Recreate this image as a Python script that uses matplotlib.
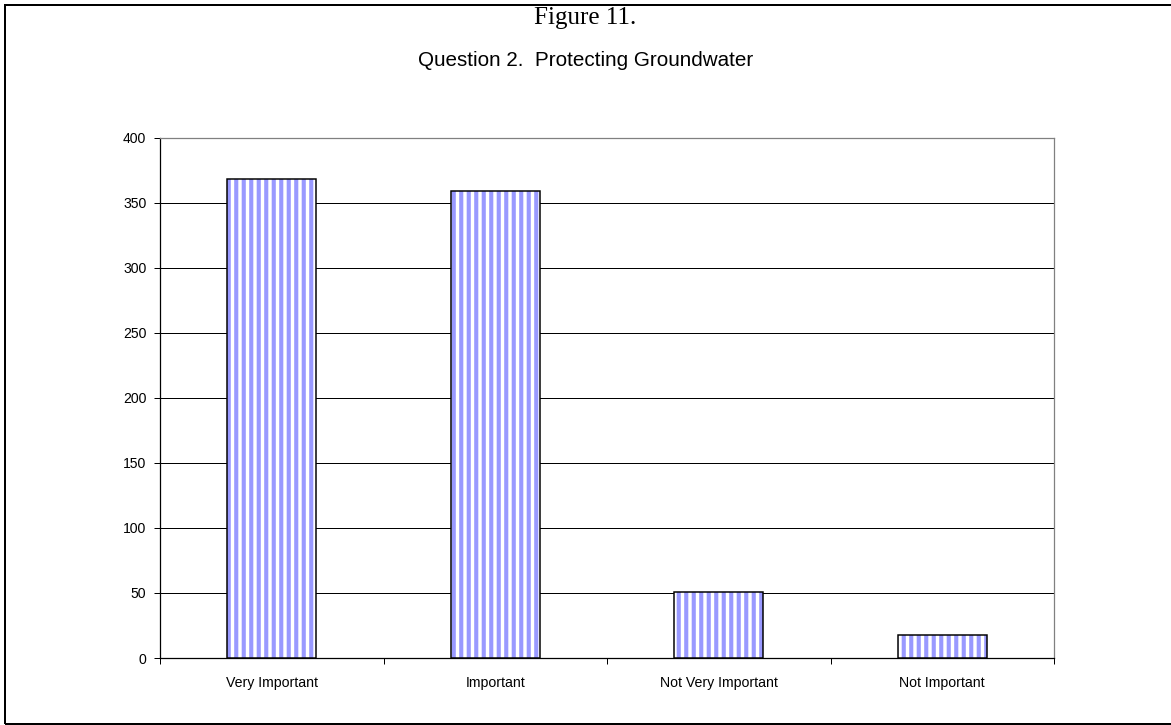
import matplotlib
matplotlib.use("Agg")
import matplotlib.pyplot as plt
from matplotlib.patches import Rectangle
import numpy as np

# dados
categories = ["Very Important", "Important", "Not Very Important", "Not Important"]
counts = [368, 359, 51, 18]
y_ticks = [0, 50, 100, 150, 200, 250, 300, 350, 400]

BAR_COLOR = "#9999FF"
DPI = 90

plt.rcParams["hatch.linewidth"] = 3.3

fig = plt.figure(figsize=(1171 / DPI, 725 / DPI), dpi=DPI)
ax = fig.add_axes([160 / 1171, 1 - 658 / 725, (1054 - 160) / 1171, (658 - 137.7) / 725])

x = np.arange(len(categories))
width = 0.40

# listras: hachura azul sobre fundo branco, borda preta por cima
ax.bar(x, counts, width=width, color="white", edgecolor=BAR_COLOR,
       hatch="||", linewidth=0, zorder=3)
ax.bar(x, counts, width=width, fill=False, edgecolor="black",
       linewidth=1.2, zorder=4)

ax.set_xlim(-0.5, len(categories) - 0.5)
ax.set_ylim(0, 400)
ax.set_yticks(y_ticks)
ax.set_yticklabels([str(v) for v in y_ticks], fontsize=11.2, family="Liberation Sans")
for v in y_ticks[1:-1]:
    ax.axhline(v, color="black", linewidth=0.8, zorder=1)

# ticks das categorias nas divisões, rótulos no centro
ax.set_xticks(np.arange(len(categories) + 1) - 0.5)
ax.set_xticklabels([])
ax.set_xticks(x, minor=True)
ax.set_xticklabels(categories, minor=True, fontsize=11.3, family="Liberation Sans")
ax.tick_params(axis="x", which="minor", length=0, pad=14)
ax.tick_params(axis="both", which="major", length=5, width=0.8, direction="out")
ax.tick_params(axis="y", pad=6)

for side in ["left", "bottom"]:
    ax.spines[side].set_color("black")
    ax.spines[side].set_linewidth(1.0)
for side in ["top", "right"]:
    ax.spines[side].set_color("#808080")
    ax.spines[side].set_linewidth(1.0)

fig.text(0.5, 1 - 18 / 725, "Figure 11.", ha="center", va="center",
         fontsize=20, family="Liberation Serif")
fig.text(0.5, 1 - 60 / 725, "Question 2.  Protecting Groundwater", ha="center",
         va="center", fontsize=16.5, family="Liberation Sans")

# moldura externa
fig.patches.append(Rectangle((5 / 1171, 1 / 725), 1.2, 1 - 6 / 725,
                             transform=fig.transFigure, fill=False,
                             edgecolor="black", linewidth=1.6))

fig.savefig("out.png", dpi=DPI)
